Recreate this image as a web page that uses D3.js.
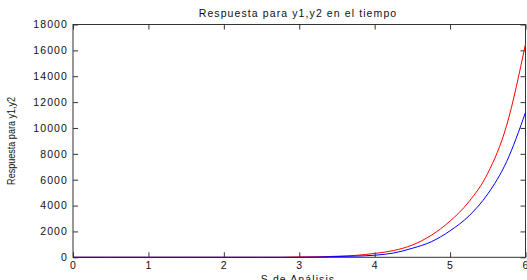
<!DOCTYPE html>
<html>
<head>
<meta charset="utf-8">
<script src="https://cdn.jsdelivr.net/npm/d3@7"></script>
<style>
  body { margin: 0; background: #fff; }
  svg { display: block; }
  .lbl { font-family: "Liberation Sans", Arial, sans-serif; font-size: 10.5px; letter-spacing: 1.1px; fill: #111; }
  .ylab { font-family: "Liberation Sans Narrow", "Liberation Sans", sans-serif; font-size: 11.5px; fill: #111; }
</style>
</head>
<body>
<div id="chart"></div>
<script>
// Data
const times = [0, 0.5, 1, 1.5, 2, 2.5, 2.75, 3, 3.25, 3.5, 3.75, 4, 4.25, 4.5, 4.75, 5, 5.25, 5.5, 5.75, 6];
const y1 = [0, 0, 0, 0, 0, 0, 0, 30, 40, 80, 150, 300, 520, 950, 1700, 2800, 4300, 6500, 10200, 16500];
const y2 = [0, 0, 0, 0, 0, 0, 0, 0, 20, 60, 90, 160, 330, 700, 1200, 2050, 3200, 4900, 7400, 11200];
const xTicks = [0, 1, 2, 3, 4, 5, 6];
const yTicks = [0, 2000, 4000, 6000, 8000, 10000, 12000, 14000, 16000, 18000];

const width = 527;
const height = 280;
const plot = {left: 73, right: 525.5, top: 24.5, bottom: 257.3};

const svg = d3.select("#chart")
  .append("svg")
    .attr("width", width)
    .attr("height", height);

// Scales
const xScale = d3.scaleLinear().domain([0, 6]).range([plot.left, plot.right]);
const yScale = d3.scaleLinear().domain([0, 18000]).range([plot.bottom, plot.top]);

// Axes (ticks pointing inward, MATLAB style)
const axisColor = "#333";
const addAxis = (axis, tx, ty, labels) => {
  const g = svg.append("g")
    .attr("transform", `translate(${tx}, ${ty})`)
    .call(axis);
  g.select(".domain").remove();
  g.selectAll(".tick line").attr("stroke", axisColor);
  if (labels) g.selectAll(".tick text").attr("class", "lbl").attr("fill", null);
  else g.selectAll(".tick text").remove();
  g.attr("font-size", null).attr("font-family", null);
  return g;
};

addAxis(d3.axisBottom(xScale).tickValues(xTicks).tickSize(-5).tickFormat(d3.format("d")), 0, plot.bottom, true)
  .selectAll(".tick text").attr("dy", "0.71em").attr("y", 4);
addAxis(d3.axisTop(xScale).tickValues(xTicks).tickSize(-5), 0, plot.top, false);
addAxis(d3.axisLeft(yScale).tickValues(yTicks).tickSize(-5).tickFormat(d3.format("d")), plot.left, 0, true)
  .selectAll(".tick text").attr("x", -5);
addAxis(d3.axisRight(yScale).tickValues(yTicks).tickSize(-5), plot.right, 0, false);

// Box
svg.append("rect")
  .attr("x", plot.left)
  .attr("y", plot.top)
  .attr("width", plot.right - plot.left)
  .attr("height", plot.bottom - plot.top)
  .attr("fill", "none")
  .attr("stroke", axisColor)
  .attr("stroke-width", 1);

// Lines
const line = (vals) => d3.line()
  .x((d, i) => xScale(times[i]))
  .y(d => yScale(d))
  .curve(d3.curveMonotoneX)(vals);

svg.append("path")
  .attr("d", line(y1))
  .attr("fill", "none")
  .attr("stroke", "#ff0000")
  .attr("stroke-width", 1);

svg.append("path")
  .attr("d", line(y2))
  .attr("fill", "none")
  .attr("stroke", "#0000ff")
  .attr("stroke-width", 1);

// Labels
svg.append("text")
  .attr("class", "lbl")
  .attr("x", 298)
  .attr("y", 17)
  .attr("text-anchor", "middle")
  .text("Respuesta para y1,y2 en el tiempo");

svg.append("text")
  .attr("class", "lbl")
  .attr("x", 298)
  .attr("y", 283)
  .attr("text-anchor", "middle")
  .text("S de Análisis");

svg.append("text")
  .attr("class", "ylab")
  .attr("transform", `translate(15, ${(plot.top + plot.bottom) / 2}) rotate(-90)`)
  .attr("text-anchor", "middle")
  .attr("textLength", 88)
  .attr("lengthAdjust", "spacingAndGlyphs")
  .text("Respuesta para y1,y2");
</script>
</body>
</html>
